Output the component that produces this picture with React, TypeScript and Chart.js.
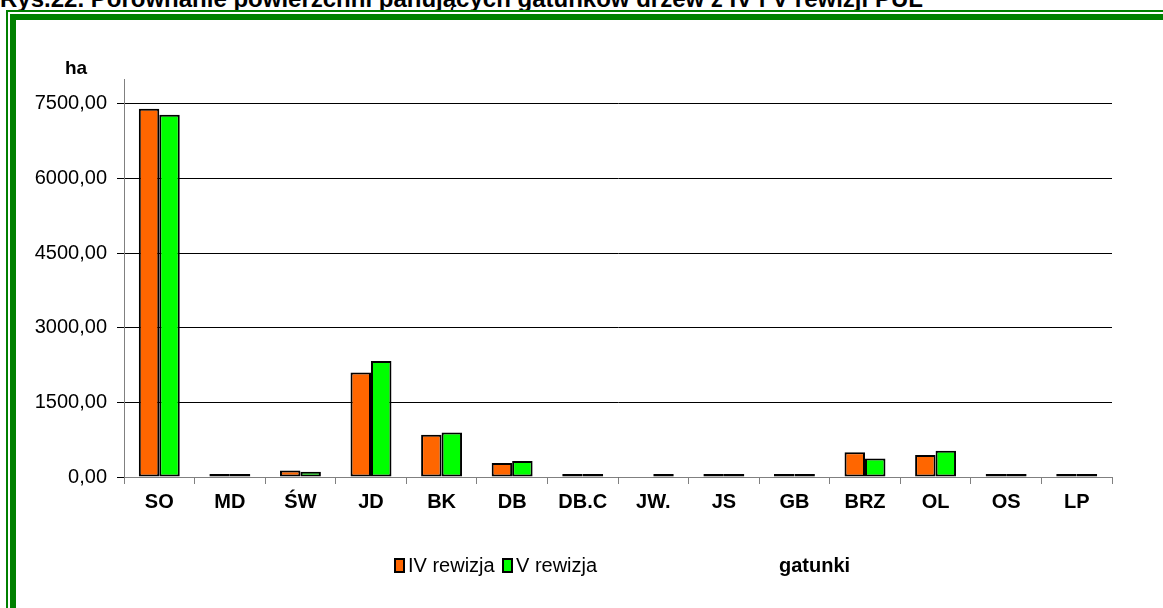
import React, { useEffect, useRef } from "react";
import { Chart, registerables } from "chart.js";

Chart.register(...registerables);

const categories = ["SO", "MD", "ŚW", "JD", "BK", "DB", "DB.C", "JW.", "JS", "GB", "BRZ", "OL", "OS", "LP"];
const rewizjaIV: (number | null)[] = [7400, 5, 130, 2100, 850, 280, 5, null, 5, 15, 495, 440, 5, 5];
const rewizjaV: (number | null)[] = [7280, 4, 105, 2330, 895, 320, 5, 4, 4, 10, 370, 530, 5, 5];
const seriesNames = ["IV rewizja", "V rewizja"];
const yTickValues = [0, 1500, 3000, 4500, 6000, 7500];
const yMax = 8000;
const titleText = "Rys.22. Porównanie powierzchni panujących gatunków drzew z IV i V rewizji PUL";
const yUnit = "ha";
const xTitle = "gatunki";

const FONT = '"Liberation Sans", Arial, sans-serif';
const ORANGE = "#FF6600";
const GREEN = "#00FF00";

export default function App() {
  const ref = useRef<HTMLCanvasElement | null>(null);

  useEffect(() => {
    const style = document.createElement("style");
    style.textContent = "body{margin:0;}";
    document.head.appendChild(style);
    const canvas = ref.current!;
    const chart = new Chart(canvas, {
      type: "bar",
      data: {
        labels: categories,
        datasets: [
          {
            label: seriesNames[0],
            data: rewizjaIV,
            backgroundColor: ORANGE,
            borderColor: "#000",
            borderWidth: 2,
            borderSkipped: false,
            minBarLength: 3,
          },
          {
            label: seriesNames[1],
            data: rewizjaV,
            backgroundColor: GREEN,
            borderColor: "#000",
            borderWidth: 2,
            borderSkipped: false,
            minBarLength: 3,
          },
        ],
      },
      options: {
        animation: false,
        responsive: false,
        devicePixelRatio: 1,
        layout: { padding: { top: 79, right: 51, left: 0, bottom: 0 } },
        datasets: { bar: { categoryPercentage: 0.58, barPercentage: 1 } },
        plugins: { legend: { display: false }, tooltip: { enabled: false }, title: { display: false } },
        scales: {
          x: {
            type: "category",
            grid: { offset: true, drawOnChartArea: false, tickLength: 7, color: "#808080" },
            border: { color: "#808080", width: 1 },
            ticks: {
              color: "#000",
              font: { family: FONT, size: 20, weight: "bold" },
              padding: 6,
              maxRotation: 0,
              autoSkip: false,
            },
            afterFit: (s: any) => {
              s.height = 131;
            },
          },
          y: {
            min: 0,
            max: yMax,
            grid: { color: "#000", tickLength: 7, lineWidth: 1 },
            border: { color: "#808080", width: 1 },
            ticks: {
              color: "#000",
              padding: 10,
              font: { family: FONT, size: 20 },
              callback: (v: any) => Number(v).toFixed(2).replace(".", ","),
            },
            afterBuildTicks: (s: any) => {
              s.ticks = yTickValues.map((v) => ({ value: v }));
            },
            afterFit: (s: any) => {
              s.width = 124;
            },
          },
        },
      },
    } as any);
    return () => {
      chart.destroy();
      style.remove();
    };
  }, []);

  const sq = (color: string): React.CSSProperties => ({
    display: "inline-block",
    width: 7,
    height: 11,
    background: color,
    border: "2px solid #000",
    marginRight: 3,
  });

  const legendItem = (left: number): React.CSSProperties => ({
    position: "absolute",
    left,
    top: 554,
    fontSize: 20,
    lineHeight: "22px",
    display: "flex",
    alignItems: "center",
    whiteSpace: "nowrap",
  });

  return (
    <div style={{ position: "relative", width: 1163, height: 608, overflow: "hidden", background: "#fff", fontFamily: FONT }}>
      <div
        style={{
          position: "absolute",
          left: 0,
          top: -13,
          fontSize: 24,
          fontWeight: "bold",
          lineHeight: "24px",
          whiteSpace: "nowrap",
          color: "#000",
        }}
      >
        {titleText}
      </div>
      <div
        style={{
          position: "absolute",
          left: 6,
          top: 10,
          width: 2000,
          height: 2000,
          borderLeft: "2px solid #008000",
          borderTop: "2px solid #008000",
        }}
      />
      <div
        style={{
          position: "absolute",
          left: 10,
          top: 14,
          width: 2000,
          height: 2000,
          borderLeft: "6px solid #008000",
          borderTop: "6px solid #008000",
        }}
      />
      <canvas ref={ref} width={1163} height={608} style={{ position: "absolute", left: 0, top: 0 }} />
      <div style={{ position: "absolute", left: 65, top: 58, fontSize: 19, fontWeight: "bold", lineHeight: "19px" }}>{yUnit}</div>
      <div style={legendItem(394)}>
        <span style={sq(ORANGE)} />
        <span>{seriesNames[0]}</span>
      </div>
      <div style={legendItem(502)}>
        <span style={sq(GREEN)} />
        <span>{seriesNames[1]}</span>
      </div>
      <div style={{ position: "absolute", left: 779, top: 555, fontSize: 20, fontWeight: "bold", lineHeight: "20px" }}>{xTitle}</div>
    </div>
  );
}
